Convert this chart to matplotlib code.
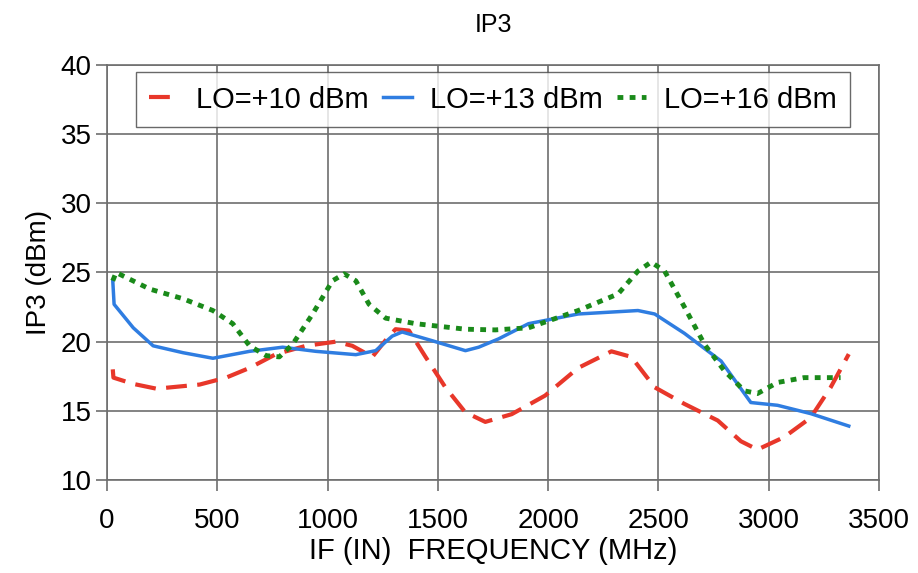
import matplotlib.pyplot as plt

plt.rcParams['font.family'] = ['Liberation Sans', 'DejaVu Sans']

# LO=+10 dBm
f10 = [26, 29, 118, 224, 420, 540, 646, 766, 902, 1037, 1112, 1203, 1263, 1308, 1369,
       1444, 1534, 1624, 1715, 1835, 1986, 2136, 2287, 2377, 2483, 2618, 2769, 2874,
       2949, 3070, 3190, 3281, 3363]
ip3_10 = [18.0, 17.4, 16.95, 16.6, 16.9, 17.4, 18.1, 19.1, 19.7, 20.0, 19.7, 18.9, 20.1,
          20.9, 20.8, 18.9, 16.7, 14.9, 14.2, 14.76, 16.1, 18.1, 19.3, 18.9, 16.7, 15.5,
          14.3, 12.8, 12.2, 13.1, 14.5, 16.7, 19.1]

# LO=+13 dBm
f13 = [26, 32, 119, 209, 345, 480, 646, 796, 947, 1128, 1218, 1293, 1338, 1474, 1625,
       1685, 1775, 1911, 2136, 2407, 2483, 2618, 2784, 2919, 3040, 3190, 3363]
ip3_13 = [24.4, 22.7, 21.0, 19.7, 19.2, 18.8, 19.3, 19.6, 19.3, 19.06, 19.35, 20.4, 20.7,
          20.07, 19.35, 19.6, 20.2, 21.3, 22.0, 22.25, 22.0, 20.6, 18.6, 15.6, 15.4, 14.8,
          13.9]

# LO=+16 dBm
f16 = [26, 41, 194, 345, 480, 570, 646, 721, 781, 841, 932, 1022, 1075, 1128, 1188, 1263,
       1399, 1625, 1760, 1911, 2136, 2317, 2407, 2467, 2528, 2618, 2709, 2799, 2889, 2949,
       3040, 3160, 3326]
ip3_16 = [24.4, 25.0, 23.8, 23.1, 22.25, 21.3, 19.7, 18.99, 18.9, 19.8, 22.0, 24.4, 24.9,
          24.4, 22.7, 21.7, 21.3, 20.9, 20.85, 21.0, 22.25, 23.45, 25.1, 25.75, 25.1, 22.5,
          19.8, 17.9, 16.45, 16.25, 17.05, 17.4, 17.4]

fig = plt.figure(figsize=(9.18, 5.73), dpi=100)
ax = fig.add_axes([0.1166, 0.1623, 0.8409, 0.7243])

ax.plot(f10, ip3_10, color='#e8372a', lw=3, linestyle=(0, (5, 2.5)), label='LO=+10 dBm')
ax.plot(f13, ip3_13, color='#2f7de1', lw=2.5, label='LO=+13 dBm')
ax.plot(f16, ip3_16, color='#1a8a1a', lw=3.5, linestyle=(0, (1.2, 1.3)), label='LO=+16 dBm')

ax.set_xlim(0, 3500)
ax.set_ylim(10, 40)
ax.set_xticks(range(0, 3501, 500))
ax.set_yticks(range(10, 41, 5))
ax.grid(True, color='#6e6e6e', lw=1.2)
ax.set_axisbelow(True)
for s in ax.spines.values():
    s.set_color('#6e6e6e')
    s.set_linewidth(1.2)
ax.tick_params(labelsize=20, length=8, width=1.2, color='#6e6e6e', pad=3)
ax.tick_params(axis='x', pad=12)

ax.set_xlabel('IF (IN)  FREQUENCY (MHz)', fontsize=21, labelpad=2)
ax.set_ylabel('IP3 (dBm)', fontsize=20, labelpad=6)
ax.set_title('IP3', fontsize=18, pad=24)

leg = ax.legend(loc='upper center', bbox_to_anchor=(0.5, 0.982), ncol=3, fontsize=21,
                frameon=True, fancybox=False, handlelength=1.0, handletextpad=0.6,
                columnspacing=0.5, borderpad=0.45, borderaxespad=0)
leg.get_frame().set_edgecolor('#444444')
leg.get_frame().set_linewidth(1.0)

fig.savefig('out.png', dpi=100)
